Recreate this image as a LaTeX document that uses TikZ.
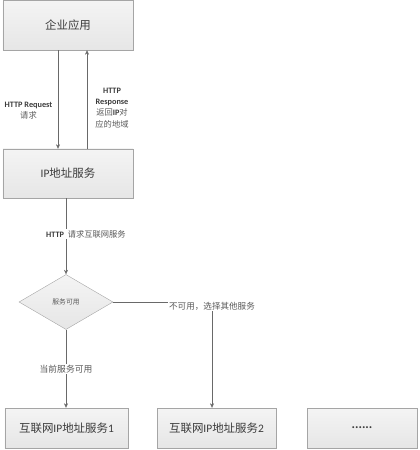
\documentclass[tikz,border=0pt]{standalone}
\usepackage{fontspec}
\setmainfont{Carlito}
\newfontfamily\cjk{Noto Sans CJK SC}
\usepackage{xcolor}
\definecolor{boxtop}{RGB}{244,244,244}
\definecolor{boxbot}{RGB}{230,230,230}
\definecolor{boxline}{RGB}{165,165,165}
\definecolor{wire}{RGB}{105,105,105}
\definecolor{ink}{RGB}{60,60,60}
\definecolor{ink2}{RGB}{90,90,90}
\usetikzlibrary{arrows.meta,shapes.geometric,positioning}
\tikzset{
  svc/.style={draw=boxline,top color=boxtop,bottom color=boxbot,text=ink,%
    font=\fontsize{11.5}{13}\selectfont,minimum height=40bp,inner sep=0pt},
  check/.style={diamond,draw=boxline,top color=boxtop,bottom color=boxbot,%
    text=ink2,font=\cjk\fontsize{6.8}{8}\selectfont,inner sep=0pt,aspect=1.7,%
    minimum width=94bp,minimum height=55bp},
  flow/.style={-{Stealth[length=4.5pt,width=4pt]},draw=wire},
  lbl/.style={text=ink2,font=\fontsize{8.3}{11.3}\selectfont,align=center,inner sep=1pt},
}
\newcommand\zh[1]{{\cjk #1}}
\newcommand\en[1]{{\color{ink}\bfseries #1}}

\begin{document}
\begin{tikzpicture}[x=1bp,y=-1bp]
\useasboundingbox (0,0) rectangle (419,450);
% boxes
\node[svc,minimum width=130bp,minimum height=50bp] (app) at (68,25) {\zh{企业应用}};
\node[svc,minimum width=130bp,minimum height=49bp] (ip) at (68,173.5) {IP\zh{地址服务}};
\node[check] (dia) at (66,302) {服务可用};
\node[svc,minimum width=123bp] (s1) at (66.5,428) {\zh{互联网}IP\zh{地址服务}1};
\node[svc,minimum width=119bp] (s2) at (216.5,428) {\zh{互联网}IP\zh{地址服务}2};
\node[svc,minimum width=110bp] (s3) at (362,428) {\bfseries\fontsize{13}{14}\selectfont ......};
% request / response
\draw[flow] ([xshift=-10bp]app.south) -- ([xshift=-10bp]ip.north);
\draw[flow] ([xshift=19bp]ip.north) -- ([xshift=19bp]app.south);
\node[lbl] (req) at (28.5,111) {\en{HTTP Request}\\\zh{请求}};
\node[lbl] (resp) at (112,108) {\en{HTTP}\\\en{Response}\\\zh{返回}\en{IP}\zh{对}\\\zh{应的地域}};
% to the check
\draw[flow] (ip.south -| dia.north) -- (dia.north);
\node[lbl,fill=white,anchor=west] (ask) at (45,234) {\en{HTTP}\ \ \zh{请求互联网服务}};
\draw[flow] (dia.south) -- node[lbl,fill=white,font=\cjk\fontsize{8.8}{10}\selectfont] (yes) {当前服务可用} (s1.north -| dia.south);
\draw[flow] (dia.east) -| node[lbl,fill=white,font=\cjk\fontsize{8.6}{10}\selectfont,yshift=-4bp] (no) {不可用，选择其他服务} ([xshift=-4.5bp]s2.north);
\end{tikzpicture}
\end{document}
